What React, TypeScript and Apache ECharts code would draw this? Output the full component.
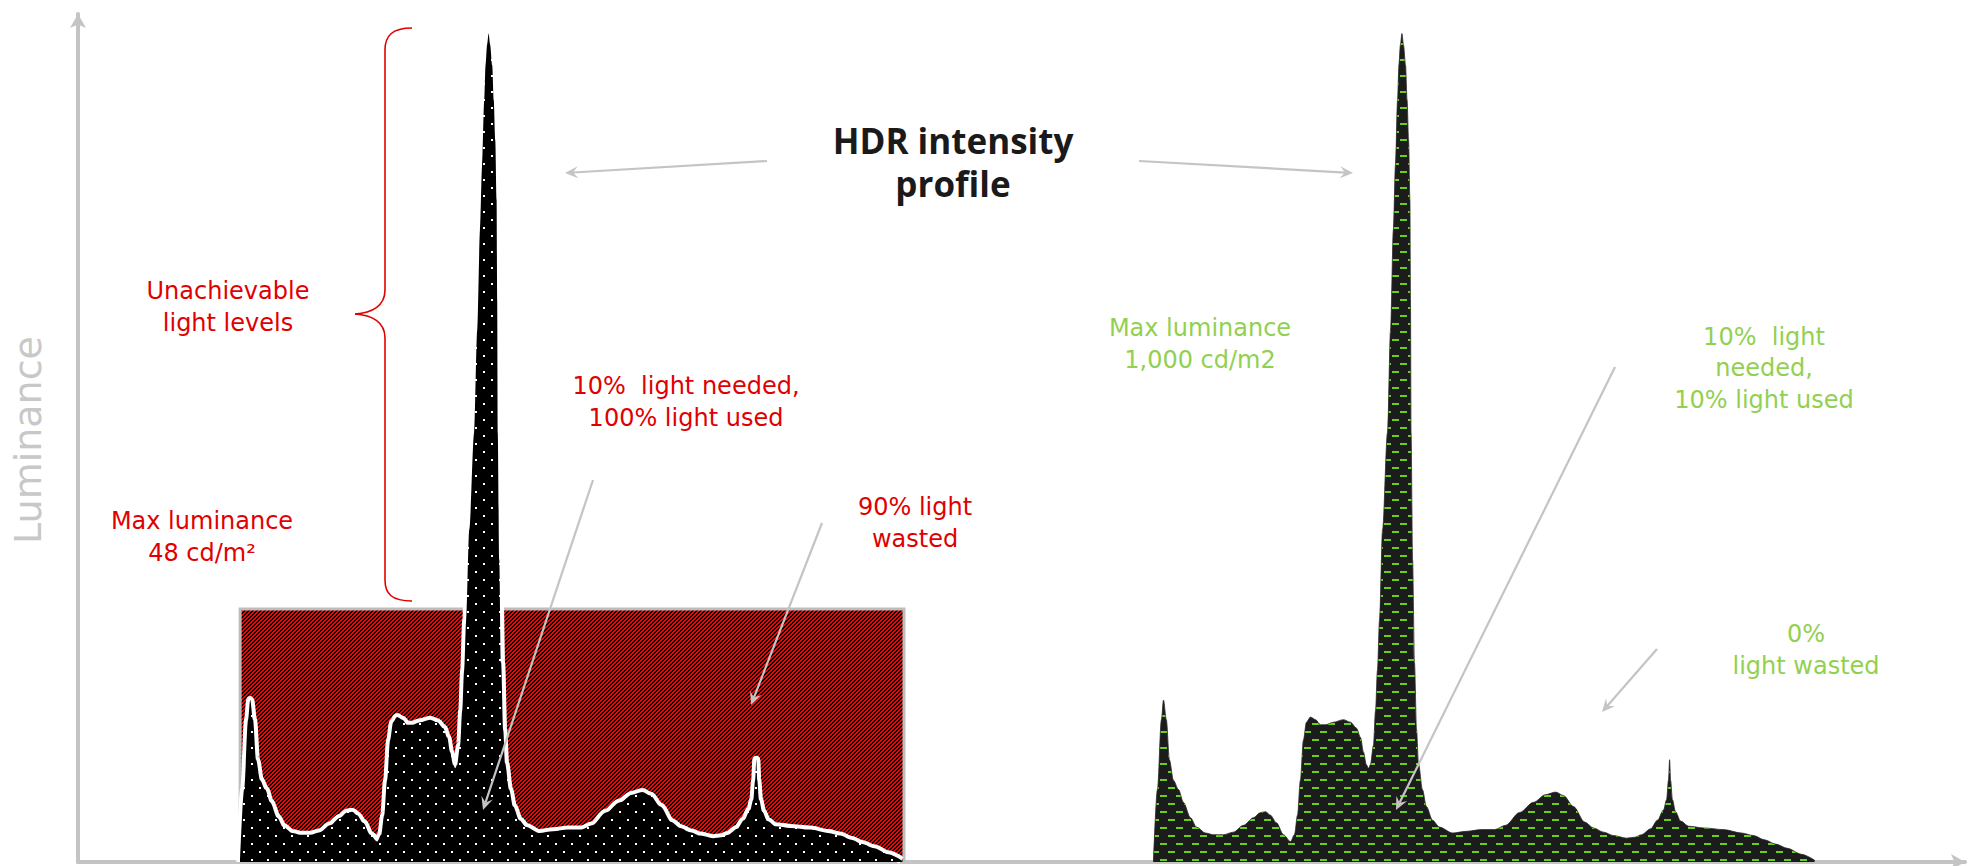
import React, { useEffect, useRef } from "react";
import * as echarts from "echarts";

// Shape of the intensity profile: position along the x axis (relative to the start of the profile)
const profilePosition = [
  0, 2.1, 4.2, 5.3, 6.8, 8.4, 10.5, 13.2, 15.8, 19.5, 22.7, 27.4, 31.6, 36.9, 42.1, 47.4, 52.7, 56.4,
  59.0, 61.6, 64.8, 68.5, 72.2, 74.3, 75.9, 77.4, 79.0, 80.6, 82.7, 85.4, 88.0, 90.6, 94.8, 100.1,
  103.8, 107.0, 109.1, 110.6, 112.2, 113.3, 114.3, 115.9, 117.0, 118.0, 119.1, 120.7, 123.3, 124.9,
  126.4, 127.5, 128.6, 129.3, 130.1, 130.9, 131.7, 132.8, 133.6, 134.4, 135.1, 135.4, 135.7, 136.5,
  137.5, 138.6, 139.6, 141.7, 143.8, 147.0, 150.7, 157.5, 164.9, 172.8, 179.7, 185.5, 192.8, 200.2,
  206.5, 211.8, 216.0, 221.3, 227.1, 231.8, 237.1, 242.4, 249.2, 253.4, 257.1, 261.9, 265.5, 268.7,
  270.3, 271.3, 271.9, 272.4, 273.4, 275.0, 277.7, 281.9, 289.8, 300.3, 309.8, 316.1, 321.9, 327.7,
  334.0, 341.4, 348.3,
];
// Luminance of the profile (0-100 scale)
const profileLuminance = [
  0, 8.5, 16.7, 19.0, 16.7, 12.0, 9.6, 8.5, 7.0, 5.2, 4.1, 3.4, 3.2, 3.2, 3.5, 4.3, 5.2, 5.8,
  5.9, 5.5, 4.6, 3.2, 2.4, 3.2, 5.5, 9.6, 14.3, 16.4, 17.0, 16.7, 16.1, 16.1, 16.4, 16.7,
  16.4, 15.7, 14.6, 12.9, 11.4, 11.0, 11.4, 13.7, 17.8, 22.5, 28.4, 39.0, 50.4, 62.4,
  74.2, 81.8, 89.4, 93.5, 95.9, 97.2, 95.9, 93.5, 89.4, 84.7, 77.7, 66.0, 50.4, 35.5,
  23.4, 15.5, 11.6, 8.5, 6.5, 4.9, 4.1, 3.4, 3.6, 3.8, 3.8, 4.3, 5.8, 7.0,
  7.9, 8.2, 7.8, 6.5, 4.7, 4.0, 3.5, 3.1, 2.8, 2.9, 3.2, 3.9, 4.9, 6.1,
  7.3, 9.6, 12.0, 9.6, 7.3, 5.9, 4.8, 4.2, 4.0, 3.8, 3.4, 3.1, 2.6, 2.1,
  1.6, 0.9, 0.2,
];

// Where each display's profile starts on the x axis
const sdrProfileStart = 85.4;
const hdrProfileStart = 566.5;
// SDR display capability: horizontal extent and max luminance level
const sdrRange = [85.4, 435.1];
const sdrMaxLuminance = 29.7;

const X_MAX = 994;
const Y_MAX = 99.5;

const RED = "#e00000";
const GREEN = "#92d050";
const GREY = "#c4c4c4";
const FONT = "DejaVu Sans";

function makePattern(w: number, h: number, draw: (ctx: CanvasRenderingContext2D) => void) {
  const c = document.createElement("canvas");
  c.width = w;
  c.height = h;
  const ctx = c.getContext("2d") as CanvasRenderingContext2D;
  draw(ctx);
  return { image: c, repeat: "repeat", imageWidth: w, imageHeight: h } as any;
}

function arrow(x1: number, y1: number, x2: number, y2: number) {
  const ang = Math.atan2(y2 - y1, x2 - x1);
  const ux = Math.cos(ang);
  const uy = Math.sin(ang);
  const px = -uy;
  const py = ux;
  const L = 13;
  const W = 6;
  const N = 8;
  const notch = [x2 - ux * N, y2 - uy * N];
  return {
    type: "group",
    silent: true,
    z: 50,
    children: [
      {
        type: "line",
        z: 50,
        shape: { x1, y1, x2: notch[0], y2: notch[1] },
        style: { stroke: GREY, lineWidth: 2.2 },
      },
      {
        type: "polygon",
        z: 50,
        shape: {
          points: [
            [x2, y2],
            [x2 - ux * L + px * W, y2 - uy * L + py * W],
            notch,
            [x2 - ux * L - px * W, y2 - uy * L - py * W],
          ],
        },
        style: { fill: GREY },
      },
    ],
  };
}

function label(
  text: string,
  x: number,
  y: number,
  color: string,
  size = 24,
  weight: any = "normal",
  family = FONT,
  lineHeight = 32
) {
  return {
    type: "text",
    x,
    y,
    z: 50,
    silent: true,
    style: {
      text,
      fill: color,
      fontSize: size,
      fontFamily: family,
      fontWeight: weight,
      align: "center",
      verticalAlign: "middle",
      lineHeight,
    },
  };
}

export default function App() {
  const ref = useRef<HTMLDivElement>(null);

  useEffect(() => {
    if (!ref.current) return;
    const chart = echarts.init(ref.current, undefined, { renderer: "svg" });

    const dotPattern = makePattern(16, 16, (ctx) => {
      ctx.fillStyle = "#000";
      ctx.fillRect(0, 0, 16, 16);
      ctx.fillStyle = "#fff";
      ctx.fillRect(3, 3, 2, 2);
      ctx.fillRect(11, 11, 2, 2);
    });
    const dashPattern = makePattern(16, 16, (ctx) => {
      ctx.fillStyle = "#1c1c1c";
      ctx.fillRect(0, 0, 16, 16);
      ctx.fillStyle = "#6ad01c";
      ctx.fillRect(0, 3, 7, 2);
      ctx.fillRect(8, 11, 7, 2);
    });
    const hatchPattern = makePattern(4, 4, (ctx) => {
      ctx.fillStyle = "#000";
      ctx.fillRect(0, 0, 4, 4);
      ctx.fillStyle = "#ff0000";
      for (let x = 0; x < 4; x++) {
        for (let y = 0; y < 4; y++) {
          const m = (x + y) % 4;
          if (m === 0 || m === 1) ctx.fillRect(x, y, 1, 1);
        }
      }
    });

    const sdrData = profilePosition.map((p, i) => [p + sdrProfileStart, profileLuminance[i]]);
    const hdrData = profilePosition.map((p, i) => [p + hdrProfileStart, profileLuminance[i]]);

    const axisCommon = {
      axisTick: { show: false },
      axisLabel: { show: false },
      splitLine: { show: false },
    };

    const option: any = {
      animation: false,
      backgroundColor: "#fff",
      grid: { left: 78, right: 15, top: 14, bottom: 4, containLabel: false },
      xAxis: {
        type: "value",
        min: 0,
        max: X_MAX,
        ...axisCommon,
        axisLine: {
          show: true,
          symbol: ["none", "arrow"],
          symbolSize: [12, 14],
          lineStyle: { color: GREY, width: 4 },
        },
      },
      yAxis: {
        type: "value",
        min: 0,
        max: Y_MAX,
        ...axisCommon,
        axisLine: {
          show: true,
          symbol: ["none", "arrow"],
          symbolSize: [12, 14],
          lineStyle: { color: GREY, width: 4 },
        },
      },
      series: [
        {
          type: "custom",
          silent: true,
          z: 1,
          encode: { x: [0, 1], y: 2 },
          data: [[sdrRange[0], sdrRange[1], sdrMaxLuminance]],
          renderItem: (params: any, api: any) => {
            const p0 = api.coord([api.value(0), api.value(2)]);
            const p1 = api.coord([api.value(1), 0]);
            return {
              type: "group",
              children: [
                {
                  type: "rect",
                  shape: { x: p0[0], y: p0[1], width: p1[0] - p0[0], height: p1[1] - p0[1] },
                  style: { fill: hatchPattern },
                },
                {
                  type: "polyline",
                  shape: {
                    points: [
                      [p0[0], p1[1]],
                      [p0[0], p0[1]],
                      [p1[0], p0[1]],
                      [p1[0], p1[1]],
                    ],
                  },
                  style: { stroke: "#bdbdbd", lineWidth: 3, fill: null },
                },
              ],
            };
          },
        },
        {
          // white outline of the SDR profile (its inner half is covered by the fill)
          type: "line",
          name: "SDR outline",
          silent: true,
          z: 2,
          data: sdrData,
          symbol: "none",
          showSymbol: false,
          smooth: 0.3,
          smoothMonotone: "x",
          lineStyle: { color: "#ffffff", width: 8 },
        },
        {
          type: "line",
          name: "SDR",
          silent: true,
          z: 3,
          data: sdrData,
          symbol: "none",
          showSymbol: false,
          smooth: 0.3,
          smoothMonotone: "x",
          lineStyle: { width: 0, opacity: 0 },
          areaStyle: { color: dotPattern, opacity: 1 },
        },
        {
          type: "line",
          name: "HDR",
          silent: true,
          z: 3,
          data: hdrData,
          symbol: "none",
          showSymbol: false,
          smooth: 0.3,
          smoothMonotone: "x",
          lineStyle: { color: "#2a2a2a", width: 0.8 },
          areaStyle: { color: dashPattern, opacity: 1 },
        },
      ],
      graphic: [
        {
          type: "text",
          x: 28,
          y: 440,
          z: 50,
          rotation: Math.PI / 2,
          silent: true,
          style: {
            text: "Luminance",
            fill: "#c8c8c8",
            fontSize: 38,
            fontFamily: FONT,
            align: "center",
            verticalAlign: "middle",
          },
        },
        {
          type: "group",
          silent: true,
          z: 50,
          children: [
            { type: "bezierCurve", shape: { x1: 412, y1: 28, cpx1: 392, cpy1: 28, cpx2: 385, cpy2: 36, x2: 385, y2: 50 }, style: { stroke: RED, lineWidth: 1.6, fill: null } },
            { type: "line", shape: { x1: 385, y1: 50, x2: 385, y2: 290 }, style: { stroke: RED, lineWidth: 1.6 } },
            { type: "bezierCurve", shape: { x1: 385, y1: 290, cpx1: 385, cpy1: 306, cpx2: 372, cpy2: 313, x2: 355, y2: 314 }, style: { stroke: RED, lineWidth: 1.6, fill: null } },
            { type: "bezierCurve", shape: { x1: 355, y1: 314, cpx1: 372, cpy1: 315, cpx2: 385, cpy2: 322, x2: 385, y2: 338 }, style: { stroke: RED, lineWidth: 1.6, fill: null } },
            { type: "line", shape: { x1: 385, y1: 338, x2: 385, y2: 580 }, style: { stroke: RED, lineWidth: 1.6 } },
            { type: "bezierCurve", shape: { x1: 385, y1: 580, cpx1: 385, cpy1: 594, cpx2: 392, cpy2: 601, x2: 412, y2: 601 }, style: { stroke: RED, lineWidth: 1.6, fill: null } },
          ],
        },
        label("Unachievable\nlight levels", 228, 307, RED),
        label("Max luminance\n48 cd/m²", 202, 537, RED),
        label("10%  light needed,\n100% light used", 686, 402, RED),
        label("90% light\nwasted", 915, 523, RED),
        label("HDR intensity\nprofile", 953, 162, "#1a1a1a", 35, "bold", "Open Sans", 43),
        label("Max luminance\n1,000 cd/m2", 1200, 344, GREEN),
        label("10%  light\nneeded,\n10% light used", 1764, 368, GREEN, 24, "normal", FONT, 31.5),
        label("0%\nlight wasted", 1806, 650, GREEN),
        arrow(767, 161, 565, 173),
        arrow(1139, 161, 1353, 173),
        arrow(593, 480, 483, 810),
        arrow(822, 523, 751, 705),
        arrow(1615, 367, 1396, 810),
        arrow(1657, 649, 1602, 712),
      ],
    };

    chart.setOption(option);
    return () => {
      chart.dispose();
    };
  }, []);

  return (
    <div
      ref={ref}
      style={{ position: "fixed", left: 0, top: 0, width: 1980, height: 866, background: "#fff" }}
    />
  );
}
